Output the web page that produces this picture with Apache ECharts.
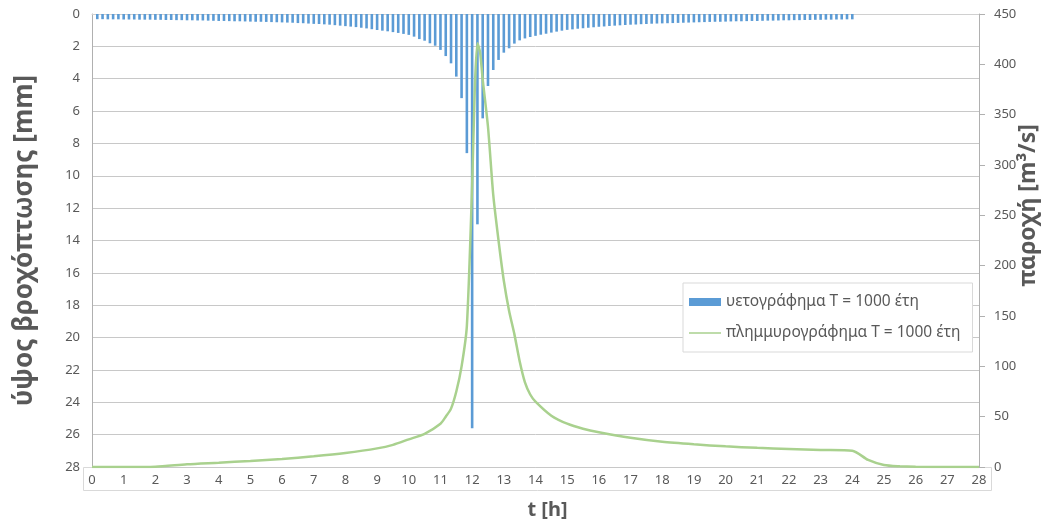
<!DOCTYPE html>
<html>
<head>
<meta charset="utf-8">
<script src="https://cdn.jsdelivr.net/npm/echarts@6/dist/echarts.min.js"></script>
<style>
  html, body { margin: 0; padding: 0; background: #fff; }
  #chart { width: 1043px; height: 522px; }
</style>
</head>
<body>
<div id="chart"></div>
<script>
// Rainfall depth per 10-minute step (mm), steps ending at 0:10 ... 24:00
const rainfall = [
  0.32, 0.32, 0.33, 0.33, 0.33, 0.34,
  0.34, 0.34, 0.35, 0.35, 0.35, 0.36,
  0.36, 0.37, 0.37, 0.38, 0.38, 0.39,
  0.39, 0.40, 0.40, 0.41, 0.42, 0.43,
  0.43, 0.44, 0.45, 0.45, 0.46, 0.47,
  0.48, 0.48, 0.49, 0.50, 0.51, 0.52,
  0.53, 0.54, 0.56, 0.57, 0.59, 0.61,
  0.62, 0.64, 0.66, 0.69, 0.72, 0.75,
  0.78, 0.81, 0.85, 0.89, 0.94, 0.99,
  1.03, 1.07, 1.12, 1.17, 1.23, 1.29,
  1.40, 1.55, 1.65, 1.81, 1.96, 2.22,
  2.60, 3.05, 3.87, 5.20, 8.60, 25.6,
  13.0, 6.45, 4.45, 3.46, 2.84, 2.39,
  2.12, 1.83, 1.63, 1.51, 1.42, 1.35,
  1.28, 1.22, 1.15, 1.09, 1.03, 0.98,
  0.95, 0.91, 0.88, 0.85, 0.82, 0.79,
  0.77, 0.74, 0.72, 0.70, 0.68, 0.66,
  0.65, 0.63, 0.62, 0.60, 0.59, 0.58,
  0.57, 0.56, 0.55, 0.54, 0.53, 0.52,
  0.51, 0.50, 0.49, 0.48, 0.48, 0.47,
  0.46, 0.45, 0.45, 0.44, 0.43, 0.43,
  0.42, 0.41, 0.41, 0.40, 0.39, 0.39,
  0.38, 0.38, 0.37, 0.37, 0.36, 0.36,
  0.35, 0.35, 0.34, 0.34, 0.33, 0.33
];
const rainStepHours = 1 / 6;

// Flood hydrograph: time (h) and discharge (m³/s)
const hydroTime = [
  0, 1, 2, 3, 4, 5, 6, 7, 8, 9, 9.5, 10, 10.5, 11, 11.167, 11.333, 11.5, 11.667, 11.833,
  12, 12.083, 12.167, 12.25, 12.333, 12.5, 12.667, 12.833, 13, 13.167, 13.333, 13.5, 13.667, 13.833,
  14, 14.5, 15, 15.5, 16, 17, 18, 19, 20, 21, 22, 23, 24, 24.5, 25, 25.5, 26, 27, 28
];
const hydroFlow = [
  0, 0, 0.3, 2.7, 4.3, 6, 8, 10.7, 14, 18.5, 22, 27.5, 33, 43, 50, 58, 75, 100, 140,
  280, 375, 421, 412, 385, 338, 270, 225, 185, 155, 132, 105, 84, 72,
  65, 51, 43, 38, 34.5, 29, 25, 22.5, 20.5, 19, 18, 17, 16.2, 7, 2, 0.7, 0.2, 0, 0
];

const hourTicks = { min: 0, max: 28, step: 1 };
const rainAxis = { min: 0, max: 28, step: 2 };
const flowAxis = { min: 0, max: 450, step: 50 };

const rainName = 'υετογράφημα T = 1000 έτη';
const flowName = 'πλημμυρογράφημα T = 1000 έτη';

const font = "'Noto Sans', 'DejaVu Sans', sans-serif";
const textGrey = '#595959';
const rainColor = '#5b9bd5';
const flowColor = '#a9d18e';

// plain line icon for the hydrograph legend entry (tiny corner marks keep the 32x8 box)
const lineIcon = 'path://M0,0 L0.01,0 L0,0.01 Z M0,3.2 L32,3.2 L32,4.8 L0,4.8 Z M32,8 L31.99,8 L32,7.99 Z';

const rainData = rainfall.map((v, i) => [(i + 1) * rainStepHours, v]);
const flowData = hydroTime.map((t, i) => [t, hydroFlow[i]]);

const chart = echarts.init(document.getElementById('chart'), null, { renderer: 'canvas' });

chart.setOption({
  animation: false,
  backgroundColor: '#ffffff',
  textStyle: { fontFamily: font },
  grid: { left: 92, right: 64, top: 14, bottom: 55, containLabel: false, outerBoundsMode: 'none' },
  legend: {
    orient: 'vertical',
    left: 683,
    top: 283,
    padding: [11, 12, 11, 6],
    itemGap: 15,
    itemWidth: 32,
    itemHeight: 8,
    backgroundColor: '#ffffff',
    borderColor: '#d9d9d9',
    borderWidth: 1,
    textStyle: { fontSize: 15.5, color: textGrey, fontFamily: font },
    data: [
      { name: rainName, icon: 'rect', itemStyle: { color: rainColor } },
      { name: flowName, icon: lineIcon, itemStyle: { color: flowColor } }
    ]
  },
  xAxis: {
    type: 'value',
    min: hourTicks.min,
    max: hourTicks.max,
    interval: hourTicks.step,
    name: 't [h]',
    nameLocation: 'middle',
    nameGap: 33,
    nameMoveOverlap: false,
    nameTextStyle: { fontSize: 20, fontWeight: 'bold', color: textGrey, padding: [0, 0, 0, 24] },
    axisLine: { show: true, lineStyle: { color: '#d0d0d0', width: 1 } },
    axisTick: { show: false },
    axisLabel: { color: textGrey, fontSize: 13, margin: 7 },
    splitLine: { show: false }
  },
  yAxis: [
    {
      type: 'value',
      inverse: true,
      min: rainAxis.min,
      max: rainAxis.max,
      interval: rainAxis.step,
      name: 'ύψος βροχόπτωσης [mm]',
      nameLocation: 'middle',
      nameRotate: 90,
      nameGap: 54,
      nameMoveOverlap: false,
      nameTextStyle: { fontSize: 26, fontWeight: 'bold', color: textGrey },
      axisLine: { show: true, lineStyle: { color: '#b0b0b0', width: 1 } },
      axisTick: { show: false },
      axisLabel: { color: textGrey, fontSize: 13, margin: 12 },
      splitLine: { show: true, lineStyle: { color: '#c8c8c8', width: 1 } }
    },
    {
      type: 'value',
      min: flowAxis.min,
      max: flowAxis.max,
      interval: flowAxis.step,
      name: 'παροχή [m³/s]',
      nameLocation: 'middle',
      nameRotate: 90,
      nameGap: 38,
      nameMoveOverlap: false,
      nameTextStyle: { fontSize: 23, fontWeight: 'bold', color: textGrey, padding: [0, 0, 0, 70] },
      axisLine: { show: true, lineStyle: { color: '#b0b0b0', width: 1 } },
      axisTick: { show: true, inside: false, length: 6, lineStyle: { color: '#b0b0b0' } },
      axisLabel: { color: textGrey, fontSize: 13, margin: 15 },
      splitLine: { show: false }
    }
  ],
  graphic: [
    {
      type: 'rect',
      silent: true,
      z: 0,
      shape: { x: 83.5, y: 467.5, width: 908, height: 23 },
      style: { fill: 'none', stroke: '#d9d9d9', lineWidth: 1 }
    }
  ],
  series: [
    {
      name: rainName,
      type: 'bar',
      xAxisIndex: 0,
      yAxisIndex: 0,
      data: rainData,
      barWidth: 2.6,
      itemStyle: { color: rainColor },
      z: 2
    },
    {
      name: flowName,
      type: 'line',
      xAxisIndex: 0,
      yAxisIndex: 1,
      data: flowData,
      smooth: 0.25,
      symbol: 'none',
      lineStyle: { color: flowColor, width: 2.5 },
      itemStyle: { color: flowColor },
      z: 3
    }
  ]
});
</script>
</body>
</html>
